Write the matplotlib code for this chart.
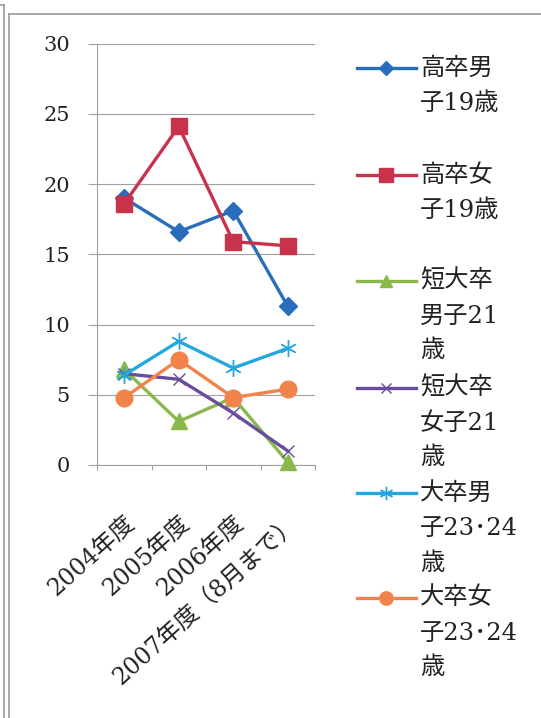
import matplotlib
matplotlib.use("Agg")
import matplotlib.pyplot as plt
from matplotlib.lines import Line2D

plt.rcParams['font.family'] = ['DejaVu Serif', 'Noto Sans CJK JP']

years = ['2004年度', '2005年度', '2006年度', '2007年度（8月まで）']

# 高卒・短大卒・大卒 (%)
koko_m = [19.0, 16.6, 18.1, 11.3]
koko_f = [18.6, 24.1, 15.9, 15.6]
tandai_m = [6.8, 3.1, 4.8, 0.2]
tandai_f = [6.5, 6.1, 3.7, 1.0]
daigaku_m = [6.4, 8.8, 6.9, 8.3]
daigaku_f = [4.8, 7.5, 4.8, 5.4]

labels = [['高卒男', '子19歳'],
          ['高卒女', '子19歳'],
          ['短大卒', '男子21', '歳'],
          ['短大卒', '女子21', '歳'],
          ['大卒男', '子23･24', '歳'],
          ['大卒女', '子23･24', '歳']]

W, H = 541, 718
fig = plt.figure(figsize=(W / 100, H / 100), dpi=100)
ax = fig.add_axes([97 / W, 1 - 465 / H, 218 / W, 421.5 / H])

styles = [
    dict(color='#2a6ebb', marker='D', ms=9),
    dict(color='#c8334b', marker='s', ms=12),
    dict(color='#8ab84a', marker='^', ms=11),
    dict(color='#6a4c9c', marker='x', ms=9, mew=1),
    dict(color='#22a8df', marker=(6, 2, 0), ms=12, mew=1),
    dict(color='#f0844a', marker='o', ms=12),
]
series = [koko_m, koko_f, tandai_m, tandai_f, daigaku_m, daigaku_f]

x = range(len(years))
for vals, st in zip(series, styles):
    ax.plot(x, vals, lw=2.4, clip_on=False, zorder=3, **st)

ax.set_xlim(-0.5, len(years) - 0.5)
ax.set_ylim(0, 30)
ax.set_yticks(range(0, 31, 5))
ax.grid(axis='y', color='#a0a0a0', lw=0.8)
ax.set_axisbelow(True)
for s in ['top', 'right']:
    ax.spines[s].set_visible(False)
for s in ['left', 'bottom']:
    ax.spines[s].set_color('#a0a0a0')
    ax.spines[s].set_linewidth(0.8)

ax.tick_params(axis='y', length=6.5, width=0.8, color='#a0a0a0', pad=13,
               labelsize=15, labelcolor='#222222')
ax.set_xticks([i - 0.5 for i in range(len(years) + 1)], minor=True)
ax.tick_params(axis='x', which='minor', length=3.6, width=0.8, color='#a0a0a0')
ax.set_xticks(list(x))
ax.set_xticklabels(years, rotation=42, ha='right', va='top',
                   rotation_mode='anchor', fontsize=17, color='#222222')
ax.tick_params(axis='x', which='major', length=0, pad=33)

# legend
entry_y = [68, 175, 281, 388, 493, 598]
for lines, st, ey in zip(labels, styles, entry_y):
    yf = 1 - ey / H
    ms = st['ms'] * 0.8
    kw = {k: v for k, v in st.items() if k != 'ms'}
    fig.add_artist(Line2D([357 / W, 416 / W], [yf, yf], lw=2.4, color=st['color']))
    fig.add_artist(Line2D([386 / W], [yf], ms=ms, ls='none', **kw))
    for i, t in enumerate(lines):
        fig.text(420 / W, 1 - (ey + 35 * i) / H, t, fontsize=17.5,
                 va='center', ha='left', color='#222222')

# scanned frame
fc = '#9a9a9a'
fig.add_artist(Line2D([4 / W, 4 / W], [0, 1 - 5 / H], lw=1.2, color=fc))
fig.add_artist(Line2D([0, 4 / W], [1 - 5 / H, 1 - 5 / H], lw=1.2, color=fc))
fig.add_artist(Line2D([8.5 / W, 8.5 / W], [0, 1 - 14 / H], lw=1.2, color=fc))
fig.add_artist(Line2D([8.5 / W, 1], [1 - 14 / H, 1 - 14 / H], lw=1.2, color=fc))

fig.savefig('out.png', dpi=100)
